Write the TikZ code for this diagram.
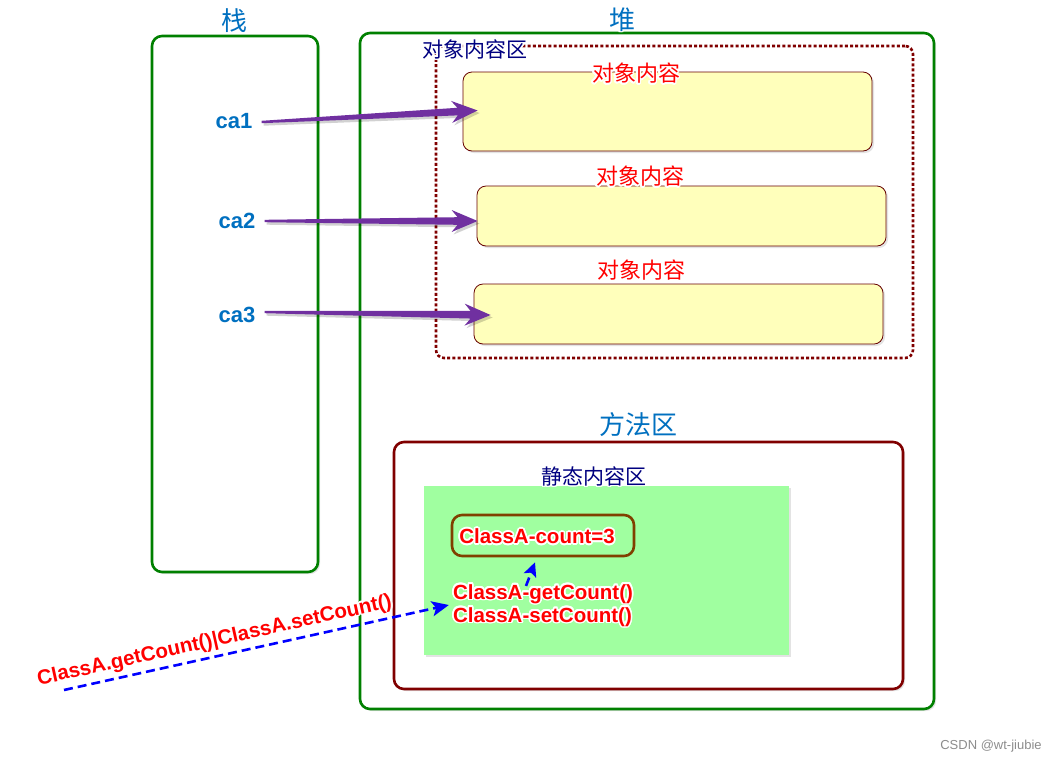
\documentclass[tikz,border=0pt]{standalone}
\usepackage{fontspec}
\setmainfont{Liberation Sans}
\newfontfamily\cjk{Noto Sans CJK SC}
\usepackage[copies]{contour}
\contourlength{1.6pt}
\usetikzlibrary{arrows.meta,calc,shadows}

\definecolor{boxgreen}{RGB}{0,128,0}
\definecolor{darkred}{RGB}{128,0,0}
\definecolor{labelblue}{RGB}{0,112,192}
\definecolor{navyblue}{RGB}{0,0,128}
\definecolor{refpurple}{RGB}{112,48,160}
\definecolor{objyellow}{RGB}{255,255,187}
\definecolor{staticgreen}{RGB}{160,255,160}
\definecolor{countbrown}{RGB}{128,64,0}
\definecolor{callblue}{RGB}{0,0,255}

% tapered reference arrow from #1 to #2
\newcommand\refarrow[2]{%
  \coordinate (h) at ($(#2)!20pt!(#1)$);
  \coordinate (w) at ($(#2)!26pt!(#1)$);
  \begin{scope}[transform canvas={xshift=2pt,yshift=-2.5pt}]
    \fill[black,opacity=0.18]
      ($(#1)!1.2pt!90:(#2)$) -- ($(h)!3.8pt!90:(#2)$) -- ($(w)!11pt!90:(#2)$) -- (#2)
      -- ($(w)!11pt!-90:(#2)$) -- ($(h)!3.8pt!-90:(#2)$) -- ($(#1)!1.2pt!-90:(#2)$) -- cycle;
  \end{scope}
  \fill[refpurple]
    ($(#1)!1.2pt!90:(#2)$) -- ($(h)!3.8pt!90:(#2)$) -- ($(w)!11pt!90:(#2)$) -- (#2)
    -- ($(w)!11pt!-90:(#2)$) -- ($(h)!3.8pt!-90:(#2)$) -- ($(#1)!1.2pt!-90:(#2)$) -- cycle;
}

\begin{document}
\begin{tikzpicture}[x=1pt,y=-1pt,
  shade box/.style={drop shadow={opacity=0.22,shadow xshift=2pt,shadow yshift=-2pt}},
  region/.style={draw,fill=white,rounded corners=10pt,line width=2.6pt,inner sep=0pt,shade box},
  memgreen/.style={region,draw=boxgreen},
  objarea/.style={draw=darkred,fill=white,rounded corners=8pt,line width=2.6pt,
    dash pattern=on 3pt off 2.2pt,inner sep=0pt},
  objbox/.style={draw=darkred!80!black,fill=objyellow,rounded corners=9pt,line width=0.8pt,
    inner sep=0pt,minimum width=409,shade box},
  areatitle/.style={text=labelblue,font=\cjk\fontsize{26}{28}\selectfont,inner sep=0pt},
  subtitle/.style={text=navyblue,font=\cjk\fontsize{21}{24}\selectfont,inner sep=0pt},
  objtitle/.style={text=red,font=\cjk\fontsize{22}{24}\selectfont,inner sep=0pt},
  varname/.style={text=labelblue,font=\bfseries\fontsize{22}{24}\selectfont,inner sep=0pt},
  codetext/.style={text=red,font=\bfseries\fontsize{20.5}{23}\selectfont,inner sep=0pt},
  calldash/.style={draw=callblue,line width=2.6pt,dash pattern=on 9pt off 5pt,
    -{Stealth[length=17pt,width=15pt,inset=4pt]}}
]
\useasboundingbox (0,0) rectangle (1062,764);

% stack and heap
\node[memgreen,minimum width=166,minimum height=536] (stack) at (235,304) {};
\node[memgreen,minimum width=574,minimum height=676] (heap) at (647,371) {};
\node[areatitle] (stacktitle) at (234,21) {\contour{white}{栈}};
\node[areatitle] (heaptitle) at (622,20) {\contour{white}{堆}};

% object area
\node[objarea,minimum width=477,minimum height=312] (objarea) at (674.5,202) {};
\node[objbox,minimum height=79] (obj1) at (667.5,111.5) {};
\node[objbox,minimum height=60] (obj2) at (681.5,216) {};
\node[objbox,minimum height=60] (obj3) at (678.5,314) {};
\node[subtitle] (objareatitle) at (475,50) {\contour{white}{对象内容区}};
\node[objtitle] (obj1title) at (636,74) {\contour{white}{对象内容}};
\node[objtitle] (obj2title) at (640,177) {\contour{white}{对象内容}};
\node[objtitle] (obj3title) at (641,271) {\contour{white}{对象内容}};

% references on the stack
\node[varname] (ca1) at (234,122) {\contour{white}{ca1}};
\node[varname] (ca2) at (237,222) {\contour{white}{ca2}};
\node[varname] (ca3) at (237,316) {\contour{white}{ca3}};

\coordinate (s1) at ([xshift=9pt]ca1.east);
\coordinate (t1) at ([xshift=15pt,yshift=1pt]obj1.west);
\coordinate (s2) at ([xshift=9pt,yshift=1pt]ca2.east);
\coordinate (t2) at ([xshift=1pt,yshift=-5pt]obj2.west);
\coordinate (s3) at ([xshift=9pt,yshift=4pt]ca3.east);
\coordinate (t3) at ([xshift=17pt,yshift=-1pt]obj3.west);
\refarrow{s1}{t1}
\refarrow{s2}{t2}
\refarrow{s3}{t3}

% method area
\node[region,draw=darkred,minimum width=509,minimum height=247] (method) at (648.5,565.5) {};
\node[areatitle] (methodtitle) at (638,425) {\contour{white}{方法区}};
\node[fill=staticgreen,inner sep=0pt,minimum width=365,minimum height=169,shade box] (static) at (606.5,570.5) {};
\node[subtitle] (statictitle) at (594,477) {\contour{white}{静态内容区}};
\node[draw=countbrown,line width=2.6pt,rounded corners=10pt,inner sep=0pt,
  minimum width=182,minimum height=41] (countbox) at (543,535.5) {};
\node[codetext] (count) at (537,537) {\contour{white}{ClassA-count=3}};
\node[codetext,align=left] (methods) at (543,606)
  {\contour{white}{ClassA-getCount()}\\\contour{white}{ClassA-setCount()}};

% calls
\draw[calldash,-{Stealth[length=14pt,width=13pt,inset=3pt]}]
  ([xshift=-17pt,yshift=-2pt]methods.north) -- ([xshift=-8pt,yshift=-5pt]countbox.south);
\coordinate (caller) at (64,690);
\draw[calldash] (caller) -- ([xshift=-4pt,yshift=1pt]methods.west)
  node[pos=0.4,above=2.5pt,sloped,codetext] (calllabel)
  {\contour{white}{ClassA.getCount()|ClassA.setCount()}};

% watermark
\node[text=black!45,font=\fontsize{13}{15}\selectfont,inner sep=0pt] (mark) at (991,746) {CSDN @wt-jiubie};
\end{tikzpicture}
\end{document}
